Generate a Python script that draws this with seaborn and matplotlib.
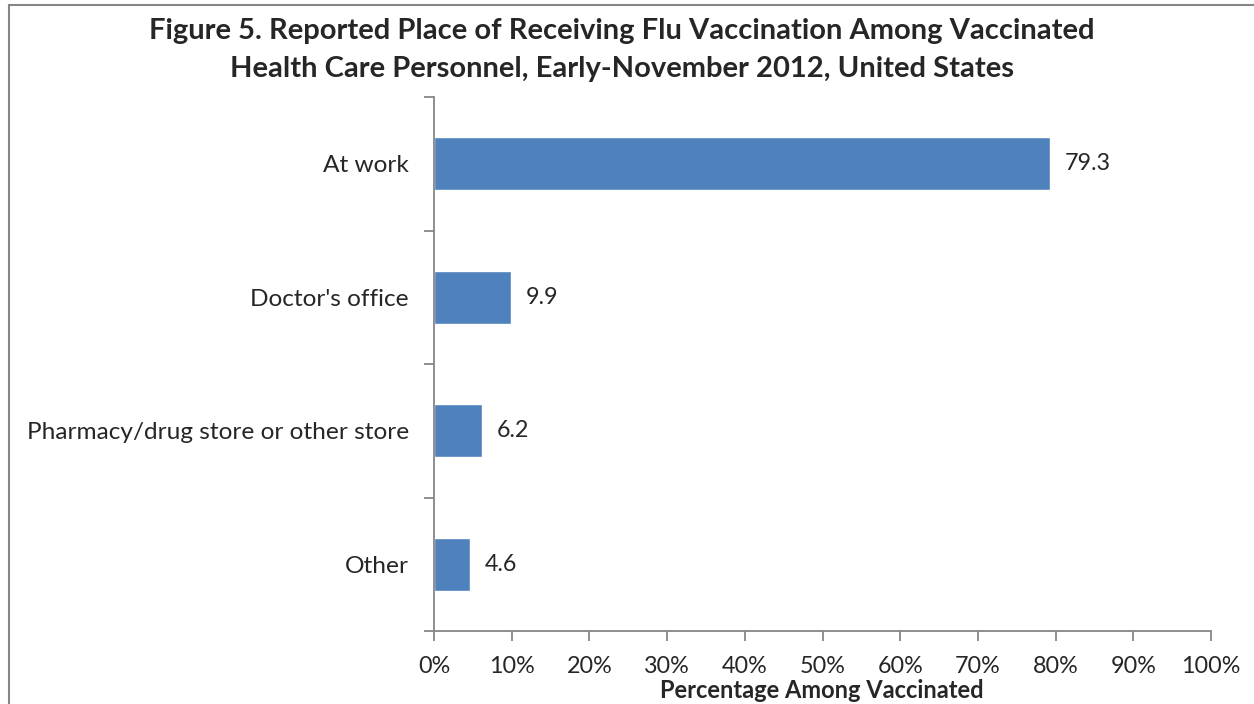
import numpy as np
import pandas as pd
import matplotlib.pyplot as plt
import seaborn as sns
from matplotlib.ticker import FuncFormatter, FixedLocator
from matplotlib.lines import Line2D

places = ["At work", "Doctor's office", "Pharmacy/drug store or other store", "Other"]
percents = [79.3, 9.9, 6.2, 4.6]
x_ticks = [0, 10, 20, 30, 40, 50, 60, 70, 80, 90, 100]

sns.set_style("white")
plt.rcParams['font.family'] = ['Lato', 'DejaVu Sans']

data = pd.DataFrame({"place": places, "pct": percents})

fig = plt.figure(figsize=(12.54, 7.04), dpi=100)
ax = fig.add_axes([434 / 1254, 1 - 631 / 704, (1211 - 434) / 1254, (631 - 97) / 704])

sns.barplot(data=data, x="pct", y="place", orient="h", color="#4F81BD",
            saturation=1, width=0.4, ax=ax)

gray = "#868686"
ax.set_xlim(0, 100)
ax.set_ylim(len(places) - 0.5, -0.5)
ax.xaxis.set_major_locator(FixedLocator(x_ticks))
ax.xaxis.set_major_formatter(FuncFormatter(lambda v, p: "%d%%" % v))
ax.tick_params(axis="x", direction="out", length=7, width=1.3, color=gray,
               labelsize=16.8, pad=11, bottom=True)
ax.tick_params(axis="y", which="major", length=0, labelsize=17.6, pad=18)
ax.set_yticks(np.arange(-0.5, len(places)), minor=True)
ax.tick_params(axis="y", which="minor", direction="out", length=7, width=1.3,
               color=gray, left=True)

for side in ["top", "right"]:
    ax.spines[side].set_visible(False)
for side in ["left", "bottom"]:
    ax.spines[side].set_color(gray)
    ax.spines[side].set_linewidth(1.3)

for i, v in enumerate(percents):
    ax.text(v + 1.9, i, "%.1f" % v, va="center", ha="left", fontsize=16.8)

ax.set_ylabel("")
ax.set_xlabel("")
fig.text(822 / 1254, 1 - 691 / 704, "Percentage Among Vaccinated", fontsize=17,
         fontweight="bold", ha="center", va="center")

fig.suptitle("Figure 5. Reported Place of Receiving Flu Vaccination Among Vaccinated\n"
             "Health Care Personnel, Early-November 2012, United States",
             x=622 / 1254, y=1 - 18 / 704, fontsize=21, fontweight="bold",
             va="top", linespacing=1.55)

# outer chart border (only left and top are inside the image)
fig.add_artist(Line2D([9 / 1254, 9 / 1254], [0, 1 - 5 / 704], color=gray, lw=1.5,
                      transform=fig.transFigure))
fig.add_artist(Line2D([9 / 1254, 1], [1 - 5 / 704, 1 - 5 / 704], color=gray, lw=1.5,
                      transform=fig.transFigure))

fig.savefig("out.png", dpi=100)
